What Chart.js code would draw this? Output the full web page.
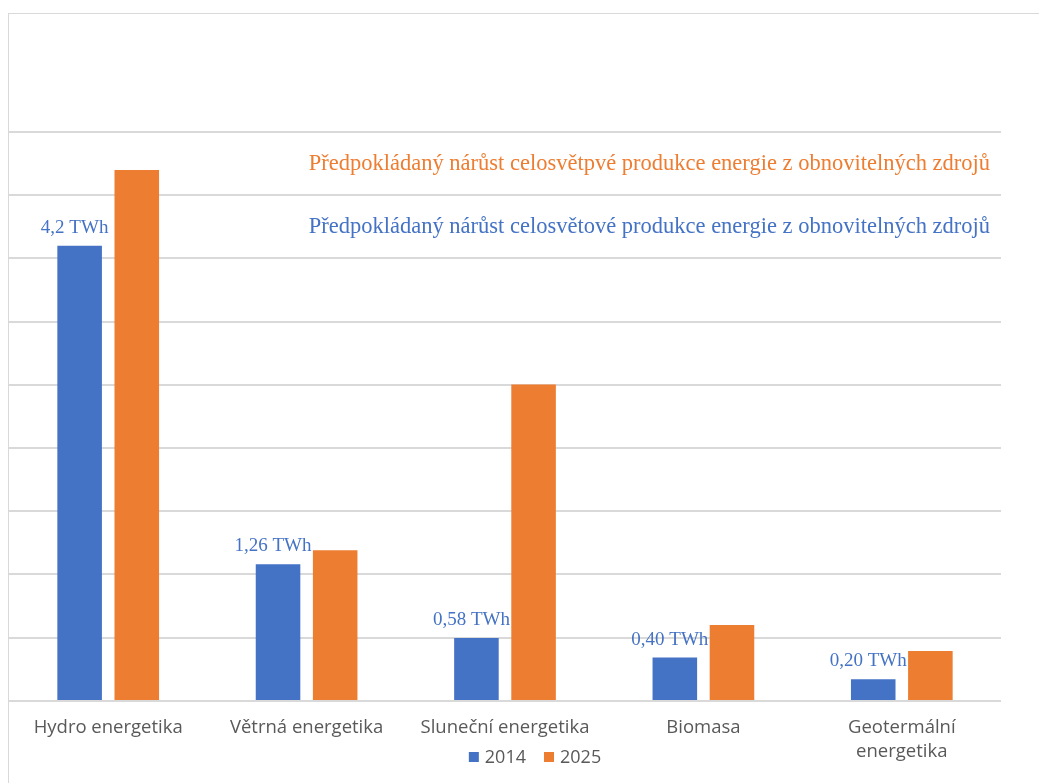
<!DOCTYPE html>
<html>
<head>
<meta charset="utf-8">
<script src="https://cdn.jsdelivr.net/npm/chart.js@4.4.1/dist/chart.umd.min.js"></script>
<style>
  html, body { margin: 0; padding: 0; background: #ffffff; }
  #wrap { position: relative; width: 1039px; height: 783px; overflow: hidden; }
  #frame { position: absolute; left: 8px; top: 13px; right: 0; bottom: 0;
           border-top: 1px solid #d9d9d9; border-left: 1px solid #d9d9d9; }
  canvas { position: absolute; left: 0; top: 0; }
</style>
</head>
<body>
<div id="wrap">
  <div id="frame"></div>
  <canvas id="chart" width="1039" height="783"></canvas>
</div>
<script>
// Categories of renewable sources
const categories = ['Hydro energetika', 'Větrná energetika', 'Sluneční energetika', 'Biomasa', ['Geotermální', 'energetika']];
const seriesNames = ['2014', '2025'];
// Production values (TWh)
const values2014 = [4.2, 1.26, 0.58, 0.40, 0.20];
const values2025 = [4.90, 1.39, 2.92, 0.70, 0.46];
// Decimal places used when printing the 2014 values
const labelDecimals = [1, 2, 2, 2, 2];
const noteLines = [
  'Předpokládaný nárůst celosvětpvé produkce energie z obnovitelných zdrojů',
  'Předpokládaný nárůst celosvětové produkce energie z obnovitelných zdrojů'
];
const axisMax = 5.25;
const gridCount = 9;

const BLUE = '#4472C4';
const ORANGE = '#ED7D31';
const SERIF = '"Liberation Serif", "Times New Roman", serif';
const SANS = '"Open Sans", "Noto Sans", sans-serif';

const fmtTWh = (v, d) => v.toFixed(d).replace('.', ',') + ' TWh';

// Text notes inside the upper grid bands, plus value labels above the 2014 bars
const annotate = {
  id: 'annotate',
  afterDatasetsDraw(chart) {
    const ctx = chart.ctx;
    const y = chart.scales.y;
    const area = chart.chartArea;
    const step = axisMax / gridCount;
    ctx.save();
    ctx.font = '22.5px ' + SERIF;
    ctx.textAlign = 'right';
    ctx.textBaseline = 'middle';
    ctx.fillStyle = ORANGE;
    ctx.fillText(noteLines[0], area.right - 11, y.getPixelForValue(axisMax - 0.5 * step));
    ctx.fillStyle = BLUE;
    ctx.fillText(noteLines[1], area.right - 11, y.getPixelForValue(axisMax - 1.5 * step));

    ctx.font = '19px ' + SERIF;
    ctx.textAlign = 'center';
    ctx.fillStyle = BLUE;
    chart.getDatasetMeta(0).data.forEach((bar, i) => {
      ctx.fillText(fmtTWh(values2014[i], labelDecimals[i]), bar.x - 5, bar.y - 18);
    });
    ctx.restore();
  }
};

// Legend drawn between the category labels
const bottomLegend = {
  id: 'bottomLegend',
  afterDraw(chart) {
    const ctx = chart.ctx;
    ctx.save();
    ctx.font = '18px ' + SANS;
    ctx.textBaseline = 'middle';
    ctx.textAlign = 'left';
    const box = 10, gapBoxText = 6, gapItems = 18;
    const items = chart.data.datasets.map(ds => ({ text: ds.label, color: ds.backgroundColor }));
    const widths = items.map(it => box + gapBoxText + ctx.measureText(it.text).width);
    const total = widths.reduce((a, b) => a + b, 0) + gapItems * (items.length - 1);
    let x = 535 - total / 2;
    const cy = 757;
    items.forEach((it, i) => {
      ctx.fillStyle = it.color;
      ctx.fillRect(x, cy - box / 2, box, box);
      ctx.fillStyle = '#595959';
      ctx.fillText(it.text, x + box + gapBoxText, cy + 1);
      x += widths[i] + gapItems;
    });
    ctx.restore();
  }
};

new Chart(document.getElementById('chart'), {
  type: 'bar',
  data: {
    labels: categories,
    datasets: [
      { label: seriesNames[0], data: values2014, backgroundColor: BLUE,
        categoryPercentage: 0.576, barPercentage: 0.78 },
      { label: seriesNames[1], data: values2025, backgroundColor: ORANGE,
        categoryPercentage: 0.576, barPercentage: 0.78 }
    ]
  },
  options: {
    responsive: false,
    animation: false,
    devicePixelRatio: 1,
    layout: { padding: { left: 9, right: 38, top: 132, bottom: 4 } },
    plugins: {
      legend: { display: false },
      tooltip: { enabled: false },
      title: { display: false }
    },
    scales: {
      x: {
        grid: { display: false, drawTicks: false },
        border: { display: false },
        ticks: {
          color: '#595959',
          font: { family: SANS, size: 18.5, lineHeight: 1.3 },
          padding: 15,
          maxRotation: 0,
          autoSkip: false
        }
      },
      y: {
        min: 0,
        max: axisMax,
        afterBuildTicks: (scale) => {
          scale.ticks = Array.from({ length: gridCount + 1 }, (_, i) => ({ value: i * axisMax / gridCount }));
        },
        afterFit: (scale) => { scale.width = 0; },
        ticks: { display: false },
        grid: { color: '#d9d9d9', lineWidth: 2, drawTicks: false },
        border: { display: false }
      }
    }
  },
  plugins: [annotate, bottomLegend]
});
</script>
</body>
</html>
